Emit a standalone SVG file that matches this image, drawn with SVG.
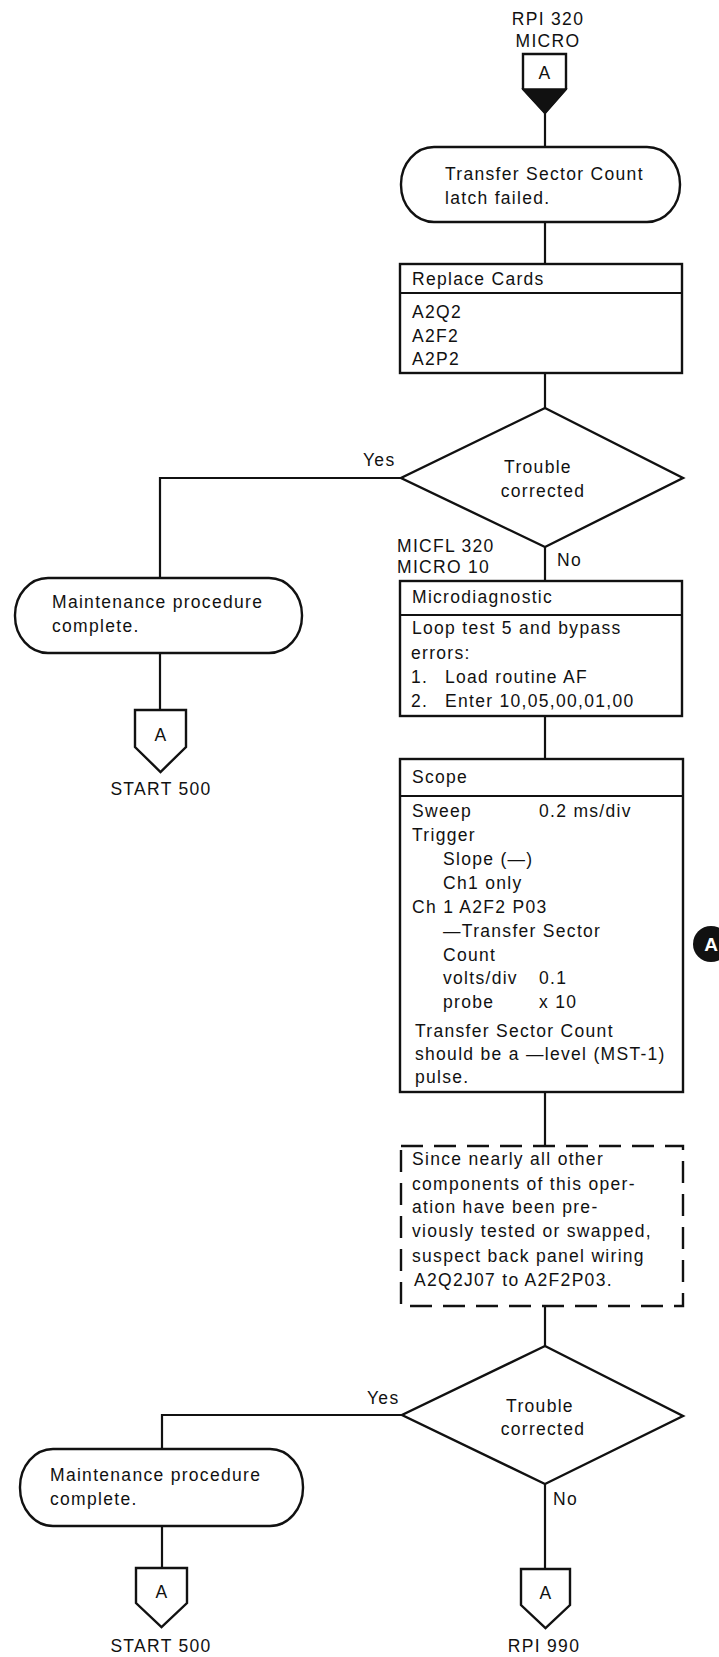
<svg xmlns="http://www.w3.org/2000/svg" width="719" height="1657" viewBox="0 0 719 1657">
  <style>
    .ln { stroke: #111; stroke-width: 2.2; fill: none; }
    .box { fill: #fff; stroke: #111; stroke-width: 2.4; }
    .dash { fill: #fff; stroke: #111; stroke-width: 2.4; stroke-dasharray: 22 11; }
    .t { font-family: "Liberation Sans", Arial, sans-serif; font-size: 17.5px; letter-spacing: 1.3px; fill: #111; }
    .c { text-anchor: middle; }
  </style>
  <rect x="0" y="0" width="719" height="1657" fill="#fff"/>

  <!-- connectors -->
  <g id="connectors">
    <path class="ln" d="M545 113 V147"/>
    <path class="ln" d="M545 222 V264"/>
    <path class="ln" d="M545 373 V408"/>
    <path class="ln" d="M401 478 H160 V578"/>
    <path class="ln" d="M160 653 V710"/>
    <path class="ln" d="M545 547 V581"/>
    <path class="ln" d="M545 716 V759"/>
    <path class="ln" d="M545 1092 V1146"/>
    <path class="ln" d="M545 1306 V1346"/>
    <path class="ln" d="M402 1415 H162 V1449"/>
    <path class="ln" d="M162 1526 V1568"/>
    <path class="ln" d="M545 1484 V1569"/>
    <text class="t" x="363" y="466">Yes</text>
    <text class="t" x="557" y="566">No</text>
    <text class="t" x="367" y="1404">Yes</text>
    <text class="t" x="553" y="1505">No</text>
  </g>

  <!-- entry connector -->
  <g id="entry">
    <text class="t c" x="548" y="25">RPI 320</text>
    <text class="t c" x="548" y="47">MICRO</text>
    <path class="box" d="M523 54 H566 V89 L545 113 L523 89 Z"/>
    <path d="M523 89 H566 L545 113 Z" fill="#111" stroke="#111" stroke-width="1.5"/>
    <text class="t c" x="545" y="79">A</text>
  </g>

  <!-- start terminal -->
  <g id="start">
    <rect class="box" x="401" y="147" width="279" height="75" rx="33" ry="37"/>
    <text class="t" x="445" y="180">Transfer Sector Count</text>
    <text class="t" x="445" y="204">latch failed.</text>
  </g>

  <!-- replace cards -->
  <g id="replace">
    <rect class="box" x="400" y="264" width="282" height="109"/>
    <path class="ln" d="M400 293 H682" stroke-width="2.4"/>
    <text class="t" x="412" y="285">Replace Cards</text>
    <text class="t" x="412" y="318">A2Q2</text>
    <text class="t" x="412" y="342">A2F2</text>
    <text class="t" x="412" y="365">A2P2</text>
  </g>

  <!-- first decision -->
  <g id="decision1">
    <path class="box" d="M545 408 L683 478 L545 547 L401 478 Z"/>
    <text class="t c" x="538" y="473">Trouble</text>
    <text class="t c" x="543" y="497">corrected</text>
  </g>

  <!-- end of procedure, upper -->
  <g id="complete1">
    <rect class="box" x="15" y="578" width="287" height="75" rx="33" ry="37"/>
    <text class="t" x="52" y="608">Maintenance procedure</text>
    <text class="t" x="52" y="632">complete.</text>
  </g>
  <g id="exit1">
    <path class="box" d="M135 710 H186 V747 L160.5 772 L135 747 Z"/>
    <text class="t c" x="161" y="741">A</text>
    <text class="t c" x="161" y="795">START 500</text>
  </g>

  <!-- microdiagnostic -->
  <g id="micro">
    <text class="t" x="397" y="552">MICFL 320</text>
    <text class="t" x="397" y="573">MICRO 10</text>
    <rect class="box" x="400" y="581" width="282" height="135"/>
    <path class="ln" d="M400 615 H682" stroke-width="2.4"/>
    <text class="t" x="412" y="603">Microdiagnostic</text>
    <text class="t" x="412" y="634">Loop test 5 and bypass</text>
    <text class="t" x="411" y="659">errors:</text>
    <text class="t" x="411" y="683">1.</text>
    <text class="t" x="445" y="683">Load routine AF</text>
    <text class="t" x="411" y="707">2.</text>
    <text class="t" x="445" y="707">Enter 10,05,00,01,00</text>
  </g>

  <!-- scope -->
  <g id="scope">
    <rect class="box" x="400" y="759" width="283" height="333"/>
    <path class="ln" d="M400 796 H683" stroke-width="2.4"/>
    <text class="t" x="412" y="783">Scope</text>
    <text class="t" x="412" y="817">Sweep</text>
    <text class="t" x="539" y="817">0.2 ms/div</text>
    <text class="t" x="412" y="841">Trigger</text>
    <text class="t" x="443" y="865">Slope (—)</text>
    <text class="t" x="443" y="889">Ch1 only</text>
    <text class="t" x="412" y="913">Ch 1 A2F2 P03</text>
    <text class="t" x="443" y="937">—Transfer Sector</text>
    <text class="t" x="443" y="961">Count</text>
    <text class="t" x="443" y="984">volts/div</text>
    <text class="t" x="539" y="984">0.1</text>
    <text class="t" x="443" y="1008">probe</text>
    <text class="t" x="539" y="1008">x 10</text>
    <text class="t" x="415" y="1037">Transfer Sector Count</text>
    <text class="t" x="415" y="1060">should be a —level (MST-1)</text>
    <text class="t" x="415" y="1083">pulse.</text>
  </g>

  <!-- reference marker -->
  <g id="markerA">
    <circle cx="711" cy="944" r="18" fill="#111"/>
    <text class="t c" x="711" y="951" fill="#fff" style="fill:#fff;font-weight:bold;font-size:19px;letter-spacing:0">A</text>
  </g>

  <!-- wiring note -->
  <g id="note">
    <rect class="dash" x="401" y="1146" width="282" height="160"/>
    <text class="t" x="412" y="1165">Since nearly all other</text>
    <text class="t" x="412" y="1190">components of this oper-</text>
    <text class="t" x="412" y="1213">ation have been pre-</text>
    <text class="t" x="412" y="1237">viously tested or swapped,</text>
    <text class="t" x="412" y="1262">suspect back panel wiring</text>
    <text class="t" x="414" y="1286">A2Q2J07 to A2F2P03.</text>
  </g>

  <!-- second decision -->
  <g id="decision2">
    <path class="box" d="M545 1346 L683 1416 L545 1484 L402 1415 Z"/>
    <text class="t c" x="540" y="1412">Trouble</text>
    <text class="t c" x="543" y="1435">corrected</text>
  </g>

  <!-- end of procedure, lower -->
  <g id="complete2">
    <rect class="box" x="20" y="1449" width="283" height="77" rx="33" ry="38"/>
    <text class="t" x="50" y="1481">Maintenance procedure</text>
    <text class="t" x="50" y="1505">complete.</text>
  </g>
  <g id="exit2">
    <path class="box" d="M136 1568 H187 V1603 L161.5 1627 L136 1603 Z"/>
    <text class="t c" x="162" y="1598">A</text>
    <text class="t c" x="161" y="1652">START 500</text>
  </g>
  <g id="exit3">
    <path class="box" d="M521 1569 H570 V1605 L545.5 1628 L521 1605 Z"/>
    <text class="t c" x="546" y="1599">A</text>
    <text class="t c" x="544" y="1652">RPI 990</text>
  </g>
</svg>
